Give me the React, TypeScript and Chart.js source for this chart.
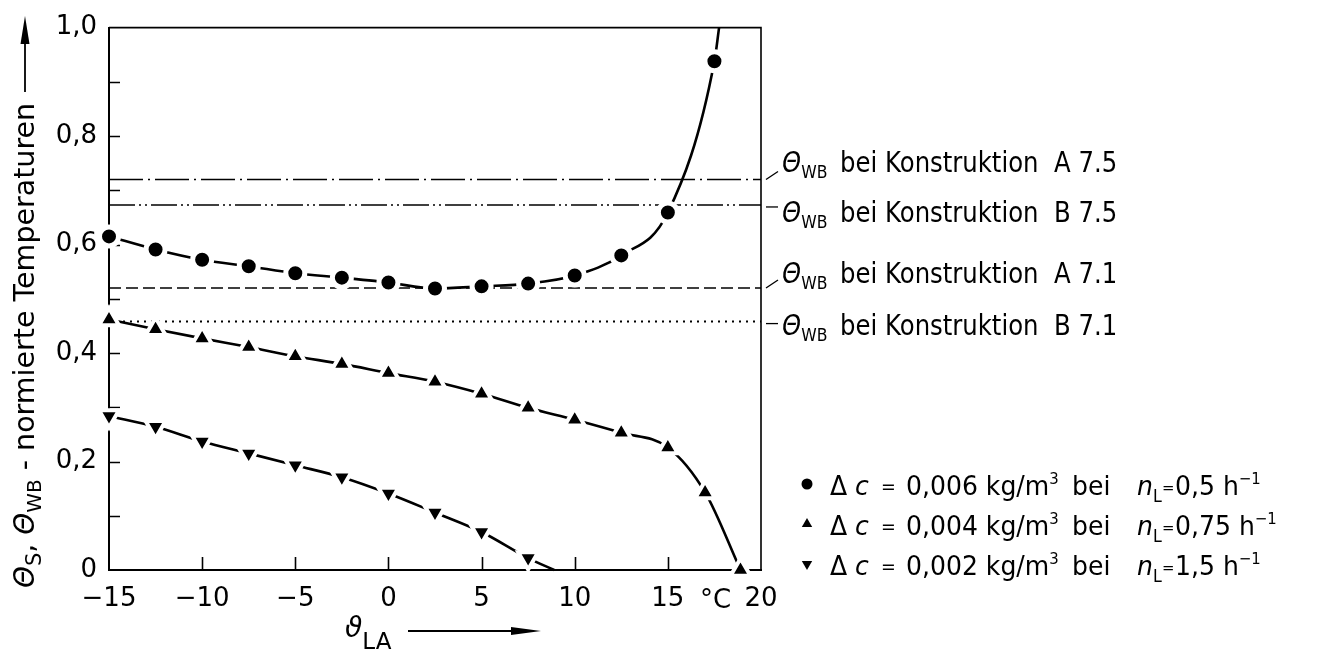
import React, { useEffect, useRef } from 'react';
import { Chart, registerables } from 'chart.js';

Chart.register(...registerables);

// ---------------- data ----------------
// x axis: outdoor air temperature ϑ_LA in °C
const xMin = -15;
const xMax = 20;
const xTickStep = 5;
const yMin = 0;
const yMax = 1;
const yTickStep = 0.1;
const yMajorLabels = ['0', '0,2', '0,4', '0,6', '0,8', '1,0'];

// ● Δc = 0,006 kg/m³ at n_L = 0,5 1/h  (last pair: where the curve leaves the top of the frame, no marker)
const circleX = [-15, -12.5, -10, -7.5, -5, -2.5, 0, 2.5, 5, 7.5, 10, 12.5, 15, 17.5, 17.75];
const circleY = [0.615, 0.591, 0.572, 0.56, 0.547, 0.539, 0.53, 0.519, 0.523, 0.528, 0.543, 0.58, 0.659, 0.938, 1.0];
const circleMarked = [1, 1, 1, 1, 1, 1, 1, 1, 1, 1, 1, 1, 1, 1, 0];

// ▲ Δc = 0,004 kg/m³ at n_L = 0,75 1/h
const upX = [-15, -12.5, -10, -7.5, -5, -2.5, 0, 2.5, 5, 7.5, 10, 12.5, 15, 17, 18.9];
const upY = [0.462, 0.444, 0.427, 0.411, 0.394, 0.38, 0.363, 0.347, 0.325, 0.299, 0.277, 0.253, 0.226, 0.143, 0.0];
const upMarked = [1, 1, 1, 1, 1, 1, 1, 1, 1, 1, 1, 1, 1, 1, 1];

// ▼ Δc = 0,002 kg/m³ at n_L = 1,5 1/h (last pair: where the curve meets the x axis, no marker)
const downX = [-15, -12.5, -10, -7.5, -5, -2.5, 0, 2.5, 5, 7.5, 8.9];
const downY = [0.284, 0.264, 0.237, 0.215, 0.193, 0.171, 0.141, 0.106, 0.07, 0.022, 0.0];
const downMarked = [1, 1, 1, 1, 1, 1, 1, 1, 1, 1, 0];

// Θ_WB levels of the constructions
const wbLevels = [0.72, 0.673, 0.52, 0.458];
const wbNames = ['A 7.5', 'B 7.5', 'A 7.1', 'B 7.1'];

// legend texts
const legendDc = ['0,006', '0,004', '0,002'];
const legendNl = ['0,5', '0,75', '1,5'];

// ---------------- styling ----------------
const FAM = "'DejaVu Sans', 'Liberation Sans', sans-serif";
const f = (size: number, italic = false) => `${italic ? 'italic ' : ''}${size}px ${FAM}`;

type Seg = { t: string; f: string; dy?: number; x?: number };

function drawRich(ctx: CanvasRenderingContext2D, x0: number, y0: number, segs: Seg[], sx = 1) {
  ctx.save();
  ctx.translate(x0, y0);
  ctx.scale(sx, 1);
  let cx = 0;
  for (const s of segs) {
    if (s.x !== undefined) cx = (s.x - x0) / sx;
    ctx.font = s.f;
    ctx.fillText(s.t, cx, s.dy || 0);
    cx += ctx.measureText(s.t).width;
  }
  ctx.restore();
}

function arrowHead(ctx: CanvasRenderingContext2D, tipX: number, tipY: number, dx: number, dy: number, len: number, half: number) {
  const bx = tipX - dx * len;
  const by = tipY - dy * len;
  ctx.beginPath();
  ctx.moveTo(tipX, tipY);
  ctx.lineTo(bx - dy * half, by + dx * half);
  ctx.lineTo(bx + dy * half, by - dx * half);
  ctx.closePath();
  ctx.fill();
}

function drawMarker(ctx: CanvasRenderingContext2D, kind: string, x: number, y: number, r: number) {
  ctx.beginPath();
  if (kind === 'circle') {
    ctx.arc(x, y, r, 0, Math.PI * 2);
  } else {
    const s = kind === 'up' ? 1 : -1;
    ctx.moveTo(x, y - s * r);
    ctx.lineTo(x + r * 0.866, y + s * r * 0.5);
    ctx.lineTo(x - r * 0.866, y + s * r * 0.5);
    ctx.closePath();
  }
  ctx.fill();
}

const framePlugin = {
  id: 'frameAndTicks',
  beforeDatasetsDraw(chart: any) {
    const { ctx, chartArea: a, scales } = chart;
    const x = scales.x;
    const y = scales.y;
    ctx.save();
    ctx.strokeStyle = '#000';
    ctx.lineWidth = 1.6;
    ctx.beginPath();
    ctx.moveTo(a.left, a.top);
    ctx.lineTo(a.right, a.top);
    ctx.lineTo(a.right, a.bottom);
    ctx.stroke();
    ctx.beginPath();
    for (const t of x.ticks) {
      if (t.value > xMin + 1e-6 && t.value < xMax - 1e-6) {
        const px = Math.round(x.getPixelForValue(t.value)) + 0.5;
        ctx.moveTo(px, a.bottom);
        ctx.lineTo(px, a.bottom - 13);
      }
    }
    for (const t of y.ticks) {
      if (t.value > yMin + 1e-6 && t.value < yMax - 1e-6) {
        const py = Math.round(y.getPixelForValue(t.value)) + 0.5;
        ctx.moveTo(a.left, py);
        ctx.lineTo(a.left + 11, py);
      }
    }
    ctx.stroke();
    ctx.restore();
  },
  afterDraw(chart: any) {
    const { ctx, chartArea: a, scales } = chart;
    const y = scales.y;
    ctx.save();
    ctx.fillStyle = '#000';
    ctx.strokeStyle = '#000';
    ctx.textBaseline = 'alphabetic';
    ctx.textAlign = 'left';

    // ---- y axis title (rotated) ----
    ctx.save();
    ctx.translate(34, 588);
    ctx.rotate(-Math.PI / 2);
    drawRich(ctx, 0, 0, [
      { t: 'Θ', f: f(28, true) },
      { t: 'S', f: f(21), dy: 7 },
      { t: ', ', f: f(28) },
      { t: 'Θ', f: f(28, true) },
      { t: 'WB', f: f(20), dy: 7 },
      { t: ' - normierte Temperaturen', f: f(28.5) },
    ]);
    ctx.restore();
    ctx.lineWidth = 1.8;
    ctx.beginPath();
    ctx.moveTo(25, 92);
    ctx.lineTo(25, 35);
    ctx.stroke();
    arrowHead(ctx, 25, 16, 0, -1, 28, 4.5);

    // ---- x axis title ----
    drawRich(ctx, 345, 637, [
      { t: 'ϑ', f: f(28, true) },
      { t: 'LA', f: f(23), dy: 12 },
    ]);
    ctx.beginPath();
    ctx.moveTo(408, 631);
    ctx.lineTo(520, 631);
    ctx.stroke();
    arrowHead(ctx, 541, 631, 1, 0, 30, 4);

    // unit
    ctx.font = f(26);
    ctx.fillText('°C', 700, 608);

    // ---- Θ_WB annotations ----
    const baselines = [172, 222, 283, 335];
    const leaderDy = [-8, 0, -8, 0];
    ctx.lineWidth = 1.3;
    wbLevels.forEach((lv, i) => {
      const py = y.getPixelForValue(lv);
      const ly = i === 1 || i === 3 ? py + 2 : py;
      ctx.beginPath();
      ctx.moveTo(a.right + 5, ly);
      ctx.lineTo(a.right + 17, ly + leaderDy[i]);
      ctx.stroke();
      drawRich(ctx, 782, baselines[i], [
        { t: 'Θ', f: f(28, true) },
        { t: 'WB', f: f(18), dy: 6 },
        { t: 'bei', f: f(28), x: 840 },
        { t: ' Konstruktion  ' + wbNames[i], f: f(28) },
      ], 0.87);
    });

    // ---- legend ----
    const kinds = ['circle', 'up', 'down'];
    const rowBase = [495, 535, 575];
    kinds.forEach((k, i) => {
      const b = rowBase[i];
      drawMarker(ctx, k, 807, b - 11, k === 'circle' ? 5.5 : 6);
      drawRich(ctx, 0, b, [
        { t: 'Δ', f: f(27), x: 830 },
        { t: 'c', f: f(27, true), x: 855 },
        { t: '=', f: f(19), x: 881, dy: -2 },
        { t: legendDc[i] + ' kg/m', f: f(27), x: 906 },
        { t: '3', f: f(16), dy: -11 },
        { t: 'bei', f: f(27), x: 1072 },
        { t: 'n', f: f(27, true), x: 1137 },
        { t: 'L', f: f(17), dy: 7 },
        { t: '=', f: f(16), x: 1162, dy: -2 },
        { t: legendNl[i], f: f(27), x: 1175 },
        { t: ' h', f: f(27) },
        { t: '−1', f: f(16), dy: -11 },
      ], 0.93);
    });

    ctx.restore();
  },
};

const pts = (xs: number[], ys: number[]) => xs.map((x, i) => ({ x, y: ys[i] }));

export default function App() {
  const ref = useRef<HTMLCanvasElement | null>(null);

  useEffect(() => {
    document.body.style.margin = '0';
    const canvas = ref.current;
    if (!canvas) return;

    const seriesCommon = {
      borderColor: '#000',
      borderWidth: 2.6,
      pointBackgroundColor: '#000',
      pointBorderColor: '#fff',
      pointBorderWidth: 5,
      cubicInterpolationMode: 'monotone' as const,
      tension: 0.4,
      clip: false as const,
      fill: false,
    };

    const hLine = (lv: number, dash: number[], width: number) => ({
      data: [
        { x: xMin, y: lv },
        { x: xMax, y: lv },
      ],
      borderColor: '#000',
      borderWidth: width,
      borderDash: dash,
      pointRadius: 0,
      fill: false,
      clip: false as const,
    });

    const tickFont = { family: FAM, size: 26 };

    const chart = new Chart(canvas, {
      type: 'line',
      data: {
        datasets: [
          {
            ...seriesCommon,
            data: pts(circleX, circleY),
            pointStyle: 'circle',
            pointRadius: circleMarked.map((m) => (m ? 9.5 : 0)),
          },
          {
            ...seriesCommon,
            data: pts(upX, upY),
            pointStyle: 'triangle',
            pointRadius: upMarked.map((m) => (m ? 11.5 : 0)),
            pointBorderWidth: 4,
          },
          {
            ...seriesCommon,
            data: pts(downX, downY),
            pointStyle: 'triangle',
            pointRotation: 180,
            pointRadius: downMarked.map((m) => (m ? 11.5 : 0)),
            pointBorderWidth: 4,
          },
          hLine(wbLevels[0], [34, 5, 2, 5], 1.6),
          hLine(wbLevels[1], [26, 4, 2, 4, 2, 4], 1.6),
          hLine(wbLevels[2], [12, 5], 1.6),
          hLine(wbLevels[3], [2, 5], 2),
        ] as any,
      },
      options: {
        responsive: false,
        animation: false,
        devicePixelRatio: 1,
        events: [],
        layout: { padding: { top: 25, right: 568, bottom: 0, left: 0 } },
        plugins: { legend: { display: false }, tooltip: { enabled: false } },
        scales: {
          x: {
            type: 'linear',
            min: xMin,
            max: xMax,
            grid: { display: false, drawTicks: false },
            border: { display: true, color: '#000', width: 2 },
            ticks: {
              stepSize: xTickStep,
              autoSkip: false,
              maxRotation: 0,
              color: '#000',
              padding: 14,
              font: tickFont,
              callback: (v: any) => (Number(v) < 0 ? '−' + Math.abs(Number(v)) : String(v)),
            },
            afterFit: (s: any) => {
              s.height = 82;
            },
          },
          y: {
            type: 'linear',
            min: yMin,
            max: yMax,
            grid: { display: false, drawTicks: false },
            border: { display: true, color: '#000', width: 2 },
            ticks: {
              stepSize: yTickStep,
              autoSkip: false,
              color: '#000',
              padding: 12,
              font: tickFont,
              callback: (v: any) => {
                const k = Math.round(Number(v) * 10);
                return k % 2 === 0 ? yMajorLabels[k / 2] : '';
              },
            },
            afterFit: (s: any) => {
              s.width = 109;
            },
          },
        },
      },
      plugins: [framePlugin],
    });

    return () => chart.destroy();
  }, []);

  return (
    <div style={{ position: 'absolute', left: 0, top: 0, width: 1329, height: 652, background: '#fff' }}>
      <canvas ref={ref} width={1329} height={652} />
    </div>
  );
}
